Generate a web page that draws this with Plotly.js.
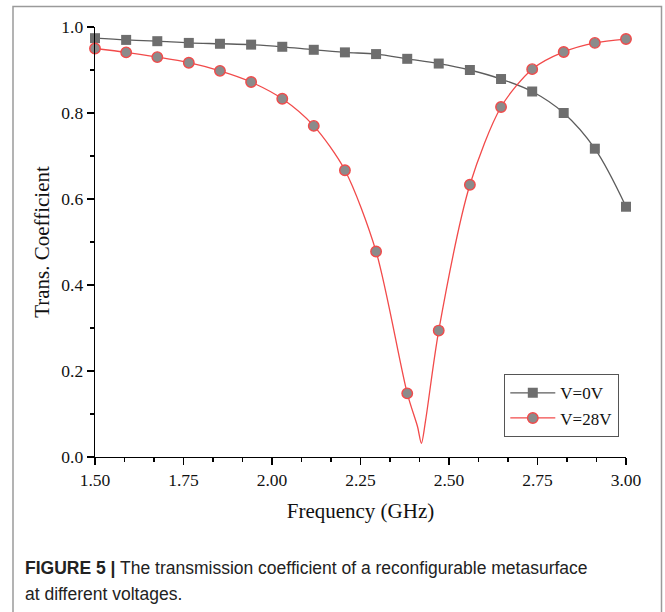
<!DOCTYPE html>
<html>
<head>
<meta charset="utf-8">
<script src="https://cdn.plot.ly/plotly-3.0.1.min.js"></script>
<style>
  html, body { margin: 0; padding: 0; background: #ffffff; }
  #chart { width: 665px; height: 612px; }
</style>
</head>
<body>
<div id="chart"></div>
<script>
// Frequency (GHz) of the marker samples
const freq = [1.500, 1.588, 1.676, 1.765, 1.853, 1.941, 2.029, 2.118, 2.206,
              2.294, 2.382, 2.471, 2.559, 2.647, 2.735, 2.824, 2.912, 3.000];
// Transmission coefficient, V = 0 V
const trans0V = [0.974, 0.970, 0.967, 0.963, 0.961, 0.959, 0.954, 0.947, 0.941,
                 0.937, 0.926, 0.915, 0.900, 0.879, 0.850, 0.800, 0.717, 0.582];
// Transmission coefficient, V = 28 V
const trans28V = [0.950, 0.941, 0.930, 0.917, 0.898, 0.872, 0.833, 0.770, 0.667,
                  0.478, 0.148, 0.294, 0.633, 0.814, 0.902, 0.942, 0.963, 0.972];
// Continuous 28 V curve (includes the resonance dip)
const curveFreq28 = [1.500, 1.588, 1.676, 1.765, 1.853, 1.941, 2.029, 2.118, 2.206,
                     2.294, 2.382, 2.411, 2.422, 2.434, 2.471, 2.559, 2.647, 2.735,
                     2.824, 2.912, 3.000];
const curve28 = [0.950, 0.941, 0.930, 0.917, 0.898, 0.872, 0.833, 0.770, 0.667,
                 0.478, 0.148, 0.071, 0.032, 0.086, 0.294, 0.633, 0.814, 0.902,
                 0.942, 0.963, 0.972];
const seriesNames = ['V=0V', 'V=28V'];
const xTicks = [1.50, 1.75, 2.00, 2.25, 2.50, 2.75, 3.00];
const yTicks = [0.0, 0.2, 0.4, 0.6, 0.8, 1.0];

const grayLine = '#5c5c5c';
const grayFill = '#6e6e6e';
const redLine = '#f24a4a';
const circFill = '#8b8b8b';
const serif = 'Liberation Serif, Times New Roman, serif';
const capFont = 'Liberation Sans, Arial, sans-serif';

const traces = [
  { x: freq, y: trans0V, mode: 'lines', line: { color: grayLine, width: 1.3, shape: 'spline' },
    showlegend: false, hoverinfo: 'skip', cliponaxis: false },
  { x: curveFreq28, y: curve28, mode: 'lines', line: { color: redLine, width: 1.3, shape: 'spline', smoothing: 0.8 },
    showlegend: false, hoverinfo: 'skip', cliponaxis: false },
  { x: freq, y: trans0V, mode: 'markers',
    marker: { symbol: 'square', size: 10, color: grayFill, line: { width: 0 } },
    showlegend: false, cliponaxis: false },
  { x: freq, y: trans28V, mode: 'markers',
    marker: { symbol: 'circle', size: 10.5, color: circFill, line: { color: redLine, width: 1.4 } },
    showlegend: false, cliponaxis: false },
  // legend entries
  { x: [null], y: [null], name: seriesNames[0], mode: 'lines+markers',
    line: { color: grayLine, width: 1.3 },
    marker: { symbol: 'square', size: 10, color: grayFill } },
  { x: [null], y: [null], name: seriesNames[1], mode: 'lines+markers',
    line: { color: redLine, width: 1.3 },
    marker: { symbol: 'circle', size: 10.5, color: circFill, line: { color: redLine, width: 1.4 } } }
];

const L = 95, R = 39, T = 27, B = 155;
const pw = 665 - L - R, ph = 612 - T - B;
const px = v => (v - L) / pw;          // page pixel -> paper x
const py = v => (612 - B - v) / ph;    // page pixel -> paper y

const layout = {
  width: 665, height: 612,
  margin: { l: L, r: R, t: T, b: B, pad: 0 },
  paper_bgcolor: '#ffffff', plot_bgcolor: '#ffffff',
  font: { family: serif, color: '#111111' },
  xaxis: {
    range: [1.5, 3.0], tickvals: xTicks, ticktext: xTicks.map(v => v.toFixed(2)),
    ticks: 'outside', ticklen: 7, tickwidth: 1.3, tickcolor: '#000',
    minor: { dtick: 0.25 / 3, tick0: 1.5, ticks: 'outside', ticklen: 4, tickwidth: 1.3, tickcolor: '#000' },
    showline: true, linecolor: '#000', linewidth: 1.3,
    showgrid: false, zeroline: false,
    tickfont: { family: serif, size: 17.5, color: '#111' },
    title: { text: 'Frequency (GHz)', font: { family: serif, size: 21, color: '#111' }, standoff: 14 }
  },
  yaxis: {
    range: [0, 1.0], tickvals: yTicks, ticktext: yTicks.map(v => v.toFixed(1)),
    ticks: 'outside', ticklen: 7, tickwidth: 1.3, tickcolor: '#000',
    minor: { dtick: 0.1, tick0: 0, ticks: 'outside', ticklen: 4, tickwidth: 1.3, tickcolor: '#000' },
    showline: true, linecolor: '#000', linewidth: 1.3,
    showgrid: false, zeroline: false,
    tickfont: { family: serif, size: 17.5, color: '#111' },
    title: { text: 'Trans. Coefficient', font: { family: serif, size: 21, color: '#111' }, standoff: 6 }
  },
  legend: {
    x: px(619), y: py(437), xanchor: 'right', yanchor: 'bottom',
    bgcolor: '#ffffff', bordercolor: '#555555', borderwidth: 1.3,
    font: { family: serif, size: 17, color: '#111' },
    itemwidth: 45, tracegroupgap: 0
  },
  shapes: [
    { type: 'rect', xref: 'paper', yref: 'paper', layer: 'below',
      x0: px(13), x1: px(661.5), y0: py(640), y1: py(6.5),
      line: { color: '#9a9a9a', width: 1.5 }, fillcolor: 'rgba(0,0,0,0)' }
  ],
  annotations: [
    { xref: 'paper', yref: 'paper', x: px(23), y: py(568), xanchor: 'left', yanchor: 'middle',
      showarrow: false, align: 'left',
      text: '<b>FIGURE 5 |</b> The transmission coefficient of a reconfigurable metasurface',
      font: { family: capFont, size: 17.5, color: '#222' } },
    { xref: 'paper', yref: 'paper', x: px(23), y: py(594), xanchor: 'left', yanchor: 'middle',
      showarrow: false, align: 'left',
      text: 'at different voltages.',
      font: { family: capFont, size: 17.5, color: '#222' } }
  ]
};

Plotly.newPlot('chart', traces, layout, { displayModeBar: false, staticPlot: true });
</script>
</body>
</html>
